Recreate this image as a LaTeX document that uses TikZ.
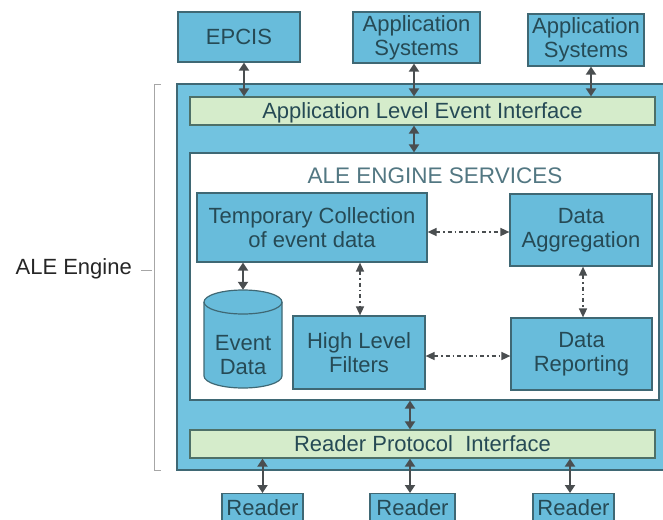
\documentclass[tikz,border=0pt]{standalone}
\usepackage{fontspec}
\setmainfont{Liberation Sans}
\usetikzlibrary{arrows.meta}
\definecolor{bluefill}{HTML}{72C3E0}
\definecolor{boxfill}{HTML}{68BCDB}
\definecolor{boxline}{HTML}{3F6874}
\definecolor{greenfill}{HTML}{D5ECCB}
\definecolor{greenline}{HTML}{4E7068}
\definecolor{txt}{HTML}{264A55}
\definecolor{arr}{HTML}{4A4E50}
\tikzset{
  every node/.style={font=\fontsize{22}{24}\selectfont, text=txt, align=center, inner sep=0pt},
  bbox/.style={draw=boxline, fill=boxfill, line width=1.2pt},
  gbar/.style={draw=greenline, fill=greenfill, line width=1.2pt},
  solidarr/.style={draw=arr, line width=2pt, {Triangle[length=8pt,width=10pt]}-{Triangle[length=8pt,width=10pt]}},
  dotarr/.style={draw=arr, line width=1.5pt, dash pattern=on 4pt off 3pt on 1.5pt off 3pt, {Triangle[length=9pt,width=8pt]}-{Triangle[length=9pt,width=8pt]}},
}
\begin{document}
\begin{tikzpicture}[x=1pt,y=-1pt]
\useasboundingbox (0,0) rectangle (663,519);
\clip (0,0) rectangle (663,519);
% top boxes
\node[bbox, minimum width=122, minimum height=50] (epcis) at (239,37) {EPCIS};
\node[bbox, minimum width=127, minimum height=51] (app1) at (416.5,37.5) {Application\\Systems};
\node[bbox, minimum width=116, minimum height=52] (app2) at (586,40) {Application\\Systems};
% outer engine
\node[draw=boxline, fill=bluefill, line width=1.2pt, minimum width=500, minimum height=386] (engine) at (427,277) {};
% interface bars
\node[gbar, minimum width=465, minimum height=28, text depth=1pt] (ale) at (422.5,111) {Application Level Event Interface};
\node[gbar, minimum width=465, minimum height=28, text depth=1pt] (rpi) at (422.5,444) {Reader Protocol\ \ Interface};
% services
\node[draw=boxline, fill=white, line width=1.2pt, minimum width=469, minimum height=247] (svc) at (424.5,276.5) {};
\node[text=boxline!90!white, font=\fontsize{22.5}{24}\selectfont] (svct) at (435,176) {ALE ENGINE SERVICES};
\node[bbox, minimum width=230, minimum height=69] (tmp) at (312,227.5) {Temporary Collection\\of event data};
\node[bbox, minimum width=142, minimum height=72] (agg) at (581,230) {Data\\Aggregation};
\node[bbox, minimum width=132, minimum height=73] (hlf) at (359,352.5) {High Level\\Filters};
\node[bbox, minimum width=141, minimum height=72] (rep) at (581.5,354) {Data\\Reporting};
% cylinder
\node[minimum width=78, minimum height=98] (ev) at (243,339) {};
\draw[bbox] (204,302) -- (204,376) arc[start angle=180, end angle=0, x radius=39, y radius=12] -- (282,302) arc[start angle=0, end angle=-180, x radius=39, y radius=12] -- cycle;
\draw[boxline, line width=1.2pt] (204,302) arc[start angle=180, end angle=0, x radius=39, y radius=12];
\node at (243,355) {Event\\Data};
% readers
\node[bbox, minimum width=81, minimum height=34, anchor=north] (r1) at (262.5,493) {};
\node[bbox, minimum width=85, minimum height=34, anchor=north] (r2) at (412.5,493) {};
\node[bbox, minimum width=81, minimum height=34, anchor=north] (r3) at (573.5,493) {};
\node at (262.5,508) {Reader};
\node at (412.5,508) {Reader};
\node at (573.5,508) {Reader};
% bracket
\draw[gray!70, line width=1pt] (161,84) -- (154,84) -- (154,470) -- (161,470);
\draw[gray!70, line width=1pt] (141,270) -- (152,270);
\node[text=black!85, anchor=east, font=\fontsize{22}{24}\selectfont] (lab) at (132,269) {ALE Engine};
% arrows
\draw[solidarr] (epcis.south -| 244,0) -- (ale.north -| 244,0);
\draw[solidarr] (app1.south -| 414,0) -- (ale.north -| 414,0);
\draw[solidarr] (app2.south -| 591,0) -- (ale.north -| 591,0);
\draw[solidarr] (ale.south -| 414,0) -- (svc.north -| 414,0);
\draw[solidarr] (svc.south -| 410,0) -- (rpi.north -| 410,0);
\draw[solidarr] (rpi.south -| r1) -- (r1.north);
\draw[solidarr] (rpi.south -| 410,0) -- (r2.north -| 410,0);
\draw[solidarr] (rpi.south -| 570,0) -- (r3.north -| 570,0);
\draw[solidarr] (tmp.south -| 243,0) -- (ev.north);
\draw[dotarr] (tmp.south -| 360,0) -- (hlf.north -| 360,0);
\draw[dotarr] (tmp.east |- 0,232) -- (agg.west |- 0,232);
\draw[dotarr] (agg.south -| 583,0) -- (rep.north -| 583,0);
\draw[dotarr] (hlf.east |- 0,356) -- (rep.west |- 0,356);
\end{tikzpicture}
\end{document}
